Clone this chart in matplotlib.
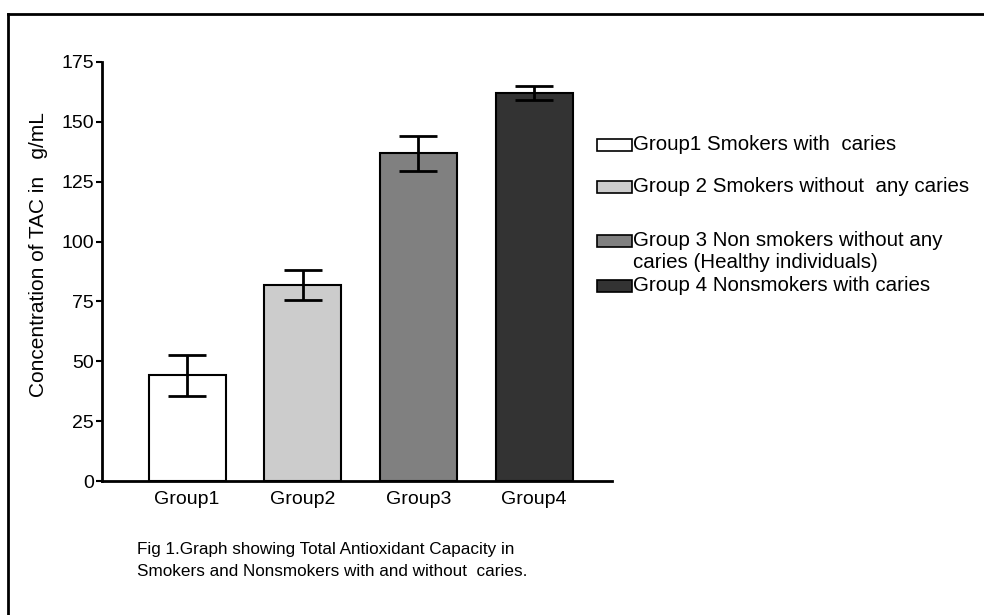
import numpy as np
import matplotlib
matplotlib.use("Agg")
import matplotlib.pyplot as plt
from matplotlib.patches import Rectangle
from matplotlib.lines import Line2D

plt.rcParams['font.family'] = ['Liberation Sans', 'DejaVu Sans']

# data
groups = ["Group1", "Group2", "Group3", "Group4"]
means = [44.2, 81.8, 136.8, 162.1]
errs = [8.5, 6.3, 7.5, 3.0]
colors = ["#ffffff", "#cccccc", "#808080", "#333333"]
legend_labels = ["Group1 Smokers with  caries",
                 "Group 2 Smokers without  any caries",
                 "Group 3 Non smokers without any\ncaries (Healthy individuals)",
                 "Group 4 Nonsmokers with caries"]
yticks = [0, 25, 50, 75, 100, 125, 150, 175]


def main():
	fig = plt.figure(figsize=(9.84, 6.15), dpi=100)
	ax = fig.add_axes([102/984, 1 - 481/615, (612-102)/984, (481-62)/615])

	x = np.arange(len(groups))
	ax.bar(x, means, width=0.666, color=colors, edgecolor="black", linewidth=1.5,
		yerr=errs, capsize=14, error_kw=dict(elinewidth=2, capthick=2, ecolor="black"))

	ax.set_xlim(-0.735, 3.674)
	ax.set_ylim(0, 175)
	ax.set_yticks(yticks)
	ax.set_xticks(x)
	ax.set_xticklabels(groups, fontsize=14)
	ax.tick_params(axis="y", labelsize=14, width=1.5, length=4, pad=2, direction="out")
	ax.tick_params(axis="x", length=0, pad=7)
	for s in ["top", "right"]:
		ax.spines[s].set_visible(False)
	for s in ["left", "bottom"]:
		ax.spines[s].set_linewidth(2)
	ax.set_ylabel("Concentration of TAC in   g/mL", fontsize=15)
	ax.yaxis.set_label_coords(-0.105, 0.54)

	# legend drawn by hand so the patches sit on the first text line
	rows = [145, 187, 241, 286]
	for c, lab, yy in zip(colors, legend_labels, rows):
		fig.add_artist(Rectangle((597/984, 1 - (yy+6)/615), 35/984, 12/615,
			facecolor=c, edgecolor="black", linewidth=1.2, transform=fig.transFigure))
		fig.text(633/984, 1 - (yy-10)/615, lab, fontsize=14.8, va="top", ha="left",
			linespacing=1.2)

	fig.text(137/984, 1 - 542/615,
		"Fig 1.Graph showing Total Antioxidant Capacity in\nSmokers and Nonsmokers with and without  caries.",
		fontsize=12.3, va="top", ha="left", linespacing=1.55)

	# page border
	fig.add_artist(Line2D([8/984, 8/984], [0, 1 - 14/615], color="black", linewidth=2, transform=fig.transFigure))
	fig.add_artist(Line2D([8/984, 1], [1 - 14/615, 1 - 14/615], color="black", linewidth=2, transform=fig.transFigure))

	fig.savefig("out.png", dpi=100)


if __name__ == "__main__":
	main()
